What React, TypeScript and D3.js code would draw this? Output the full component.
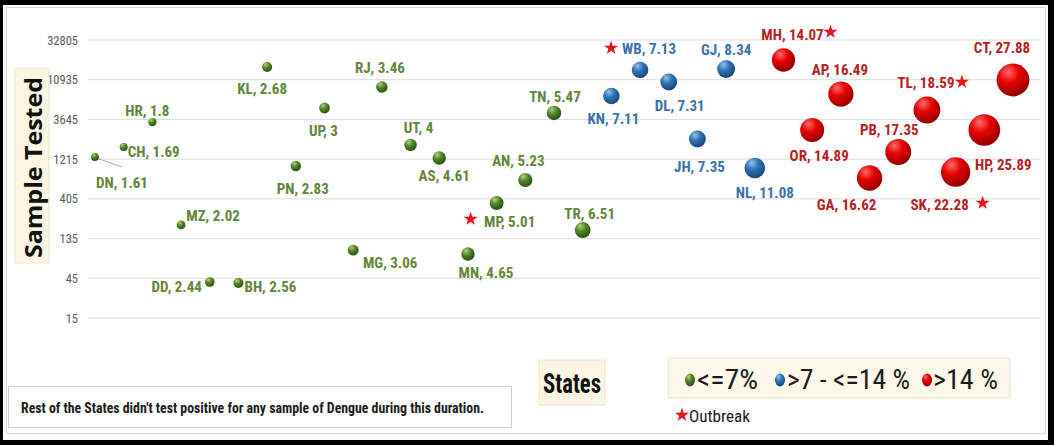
import React from "react";
import * as d3 from "d3";

// State codes in plotting order along the x axis
const states = [
  "DN", "CH", "HR", "MZ", "DD", "BH", "KL", "PN", "UP", "MG", "RJ",
  "UT", "AS", "MN", "MP", "AN", "TN", "TR", "KN", "WB", "DL", "JH",
  "GJ", "NL", "MH", "OR", "AP", "GA", "PB", "TL", "SK", "HP", "CT",
];

// Number of samples tested per state
const samplesTested = [
  1290, 1700, 3390, 197, 40.6, 39.5, 15540, 1005, 5000, 98, 8940,
  1800, 1254, 88, 361, 682, 4356, 171, 6970, 14310, 10260, 2120,
  14710, 951, 18860, 2720, 7360, 721, 1481, 4730, 851, 2720, 10850,
];

// Positivity (%) per state
const positivity = [
  1.61, 1.69, 1.8, 2.02, 2.44, 2.56, 2.68, 2.83, 3, 3.06, 3.46,
  4, 4.61, 4.65, 5.01, 5.23, 5.47, 6.51, 7.11, 7.13, 7.31, 7.35,
  8.34, 11.08, 14.07, 14.89, 16.49, 16.62, 17.35, 18.59, 22.28, 25.89, 27.88,
];

// States reporting an outbreak
const outbreakStates = ["MP", "WB", "MH", "TL", "SK"];

// Log-3 y-axis ticks
const yTicks = [15, 45, 135, 405, 1215, 3645, 10935, 32805];

const legendItems = ["<=7%", ">7 - <=14 %", ">14 %"];

// Label placement relative to the bubble centre [dx, dy]
const labelOffset: Record<string, [number, number]> = {
  DN: [27, 26], CH: [30, 5], HR: [-5, -11], MZ: [32, -9], DD: [-33, 5],
  BH: [32, 4], KL: [-5, 22], PN: [7, 23], UP: [-1, 23], MG: [37, 13],
  RJ: [-2, -19], UT: [8, -17], AS: [5, 18], MN: [18, 19], MP: [13, 19],
  AN: [-7, -19], TN: [1, -16], TR: [7, -16], KN: [2, 23], WB: [9, -21],
  DL: [11, 24], JH: [2, 28], GJ: [0, -19], NL: [10, 25], MH: [9, -25],
  OR: [7, 26], AP: [-1, -24], GA: [-23, 27], PB: [-9, -22], TL: [-1, -27],
  SK: [-16, 33], HP: [19, 35], CT: [-11, -32],
};

// Outbreak star placement relative to the bubble centre [dx, dy]
const starOffset: Record<string, [number, number]> = {
  MP: [-26, 16], WB: [-29, -22], MH: [47, -28], TL: [35, -28], SK: [27, 31],
};

const NARROW = "'Liberation Sans Narrow', 'Arial Narrow', 'Roboto Condensed', sans-serif";

const palette = [
  { id: "g", light: "#b2d482", base: "#548529", dark: "#2c4c12", text: "#628539" },
  { id: "b", light: "#93c2ee", base: "#2f73b4", dark: "#17457a", text: "#3b72a8" },
  { id: "r", light: "#ff6b6b", base: "#e60000", dark: "#900000", text: "#b81e22" },
];

const band = (p: number) => (p <= 7 ? 0 : p <= 14 ? 1 : 2);

export default function App() {
  React.useLayoutEffect(() => {
    document.body.style.margin = "0";
  }, []);

  const W = 1054;
  const H = 445;

  const x = d3.scaleLinear().domain([1, states.length]).range([95, 1013]);
  const y = d3.scaleLog().base(3).domain([15, 32805]).range([318, 40]);
  const r = d3.scaleSqrt().domain([0, 27.88]).range([0, 16.4]);

  const star = d3.symbol().type(d3.symbolStar);

  const points = states.map((s, i) => ({
    s,
    cx: x(i + 1),
    cy: y(samplesTested[i]),
    p: positivity[i],
    k: band(positivity[i]),
  }));

  return (
    <div style={{ position: "absolute", left: 0, top: 0 }}>
      <svg width={W} height={H} style={{ display: "block" }}>
        <defs>
          {palette.map((c) => (
            <radialGradient key={c.id} id={"sph-" + c.id} cx="38%" cy="30%" r="72%" fx="35%" fy="25%">
              <stop offset="0%" stopColor={c.light} />
              <stop offset="45%" stopColor={c.base} />
              <stop offset="100%" stopColor={c.dark} />
            </radialGradient>
          ))}
        </defs>

        {/* frame */}
        <rect x={0} y={0} width={W} height={H} fill="#000" />
        <rect x={3} y={5} width={1045} height={435} fill="#fff" />
        <rect x={6.5} y={7.5} width={1039} height={426} fill="none" stroke="#d6d6d6" />

        {/* gridlines and tick labels */}
        {yTicks.map((t) => (
          <g key={t}>
            <line x1={88} x2={1040} y1={y(t)} y2={y(t)} stroke="#dcdcdc" strokeWidth={1} />
            <text
              x={78}
              y={y(t)}
              textAnchor="end"
              dominantBaseline="central"
              fontFamily={NARROW}
              fontSize={12.5}
              fill="#595959"
            >
              {t}
            </text>
          </g>
        ))}

        {/* y-axis title */}
        <rect x={15} y={68} width={34} height={195} fill="#fbf6e3" stroke="#efe8cf" />
        <text
          transform={`translate(33,167.5) rotate(-90)`}
          textAnchor="middle"
          dominantBaseline="central"
          fontFamily="'Open Sans', 'DejaVu Sans', sans-serif"
          fontWeight="bold"
          fontSize={23}
          textLength={181}
          lengthAdjust="spacingAndGlyphs"
          fill="#111"
        >
          Sample Tested
        </text>

        {/* DN leader line */}
        {points
          .filter((d) => d.s === "DN")
          .map((d) => (
            <line key="lead" x1={d.cx + 4} y1={d.cy + 2} x2={d.cx + 27} y2={d.cy + 10} stroke="#a8a8a8" strokeWidth={1} />
          ))}

        {/* bubbles */}
        {points.map((d) => (
          <circle key={d.s} cx={d.cx} cy={d.cy} r={r(d.p)} fill={`url(#sph-${palette[d.k].id})`} />
        ))}

        {/* data labels */}
        {points.map((d) => {
          const [dx, dy] = labelOffset[d.s];
          return (
            <text
              key={"l" + d.s}
              x={d.cx + dx}
              y={d.cy + dy}
              textAnchor="middle"
              dominantBaseline="central"
              fontFamily={NARROW}
              fontWeight="bold"
              fontSize={15}
              fill={palette[d.k].text}
            >
              {`${d.s}, ${d.p}`}
            </text>
          );
        })}

        {/* outbreak stars */}
        {points
          .filter((d) => outbreakStates.includes(d.s))
          .map((d) => {
            const [dx, dy] = starOffset[d.s];
            return (
              <path
                key={"s" + d.s}
                d={star.size(62)() as string}
                transform={`translate(${d.cx + dx},${d.cy + dy})`}
                fill="#e8141c"
              />
            );
          })}

        {/* x-axis title */}
        <rect x={539} y={360} width={66} height={45} fill="#fbf6e3" stroke="#efe8cf" />
        <text
          x={572}
          y={384}
          textAnchor="middle"
          dominantBaseline="central"
          fontFamily={NARROW}
          fontWeight="bold"
          fontSize={27}
          textLength={58}
          lengthAdjust="spacingAndGlyphs"
          fill="#111"
        >
          States
        </text>

        {/* legend */}
        <rect x={668} y={358} width={342} height={40} fill="#fcf8ea" stroke="#ebe5cf" />
        {legendItems.map((label, i) => {
          const ix = [690, 780, 927][i];
          const tx = [697, 787, 933][i];
          const tw = [61, 123, 65][i];
          return (
            <g key={label}>
              <ellipse cx={ix} cy={380} rx={5} ry={6.5} fill={`url(#sph-${palette[i].id})`} />
              <text
                x={tx}
                y={380}
                dominantBaseline="central"
                fontFamily={NARROW}
                fontSize={27}
                textLength={tw}
                lengthAdjust="spacingAndGlyphs"
                fill="#1a1a1a"
              >
                {label}
              </text>
            </g>
          );
        })}
        <path d={star.size(62)() as string} transform="translate(682,415)" fill="#e8141c" />
        <text
          x={689}
          y={416}
          dominantBaseline="central"
          fontFamily={NARROW}
          fontSize={17}
          textLength={61}
          lengthAdjust="spacingAndGlyphs"
          fill="#1a1a1a"
        >
          Outbreak
        </text>

        {/* footnote */}
        <rect x={8.5} y={386.5} width={503} height={41} fill="#fff" stroke="#cfcfcf" />
        <text
          x={21}
          y={408}
          dominantBaseline="central"
          fontFamily={NARROW}
          fontWeight="bold"
          fontSize={14}
          textLength={463}
          lengthAdjust="spacingAndGlyphs"
          fill="#1a1a1a"
        >
          Rest of the States didn't test positive for any sample of Dengue during this duration.
        </text>
      </svg>
    </div>
  );
}
